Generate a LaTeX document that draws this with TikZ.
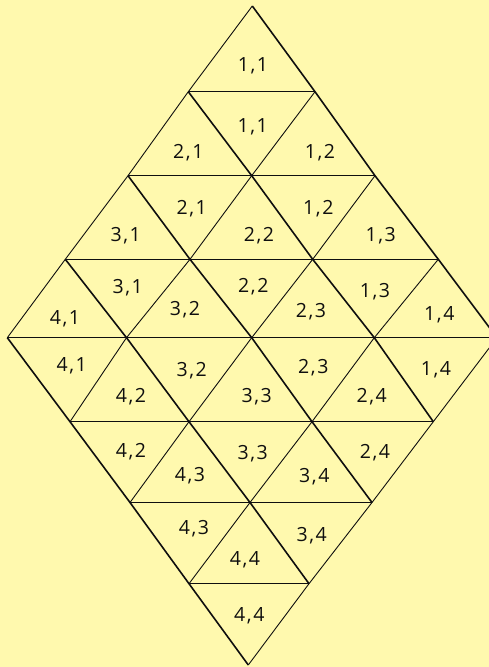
\documentclass[tikz,border=0pt]{standalone}
\usepackage{fontspec}
\setmainfont{Open Sans}
\definecolor{bgyellow}{RGB}{255,249,174}
\definecolor{ink}{RGB}{15,15,15}
\begin{document}
\begin{tikzpicture}[x=1pt,y=-1pt,
  hline/.style={draw=ink,line width=1.4pt},
  bline/.style={draw=ink,line width=1.6pt},
  sline/.style={draw=ink,line width=0.9pt},
  lab/.style={anchor=base,inner sep=0pt,text=ink,font=\fontsize{19.5}{23}\selectfont}]
\fill[bgyellow] (0,0) rectangle (489,667);
\useasboundingbox (0,0) rectangle (489,667);
% lattice points
\coordinate (p00) at (252.3,6);
\coordinate (p10) at (188.3,91.7); \coordinate (p11) at (315,91.7);
\coordinate (p20) at (128,175.7); \coordinate (p21) at (251.7,175.7); \coordinate (p22) at (375,175.7);
\coordinate (p30) at (65.3,259.3); \coordinate (p31) at (190,259.3); \coordinate (p32) at (312.7,259.3); \coordinate (p33) at (438.3,259.3);
\coordinate (p40) at (7.3,337.7); \coordinate (p41) at (126.5,337.7); \coordinate (p42) at (251.7,337.7); \coordinate (p43) at (374.3,337.7); \coordinate (p44) at (497,337.7);
\coordinate (q50) at (70,421.7); \coordinate (q51) at (189,421.7); \coordinate (q52) at (312,421.7); \coordinate (q53) at (433.3,421.7);
\coordinate (q60) at (130,502.5); \coordinate (q61) at (250,502.5); \coordinate (q62) at (372,502.5);
\coordinate (q70) at (189,583.7); \coordinate (q71) at (309,583.7);
\coordinate (q80) at (248.3,665);
% horizontals
\draw[hline] (p10) -- (p11);
\draw[hline] (p20) -- (p21) -- (p22);
\draw[hline] (p30) -- (p31) -- (p32) -- (p33);
\draw[hline] (p40) -- (p41) -- (p42) -- (p43) -- (p44);
\draw[hline] (q50) -- (q51) -- (q52) -- (q53);
\draw[hline] (q60) -- (q61) -- (q62);
\draw[hline] (q70) -- (q71);
% backslash lines (thick)
\draw[bline] (p00) -- (p11) -- (p22) -- (p33) -- (p44);
\draw[bline] (p10) -- (p21) -- (p32) -- (p43);
\draw[bline] (p20) -- (p31) -- (p42);
\draw[bline] (p30) -- (p41);
\draw[bline] (p40) -- (q50) -- (q60) -- (q70) -- (q80);
\draw[bline] (p41) -- (q51) -- (q61) -- (q71);
\draw[bline] (p42) -- (q52) -- (q62);
\draw[bline] (p43) -- (q53);
% slash lines (thin)
\draw[sline] (p00) -- (p10) -- (p20) -- (p30) -- (p40);
\draw[sline] (p11) -- (p21) -- (p31) -- (p41);
\draw[sline] (p22) -- (p32) -- (p42);
\draw[sline] (p33) -- (p43);
\draw[sline] (p44) -- (q53) -- (q62) -- (q71) -- (q80);
\draw[sline] (p43) -- (q52) -- (q61) -- (q70);
\draw[sline] (p42) -- (q51) -- (q60);
\draw[sline] (p41) -- (q50);
% labels
\foreach \lx/\ly/\la/\lb [count=\i] in {
  253/64/1/1,
  252.7/125/1/1, 188.3/151/2/1, 320/151/1/2,
  191.7/207.3/2/1, 318.3/207.3/1/2, 125.7/234/3/1, 259/234/2/2, 380.7/234/1/3,
  127.7/286.7/3/1, 253.3/285.7/2/2, 375/290/1/3,
  65/317.7/4/1, 185/308.3/3/2, 311/310/2/3, 439.3/313.3/1/4,
  71.7/364.3/4/1, 191.7/369/3/2, 313.3/366.7/2/3, 436/368.3/1/4,
  131/395.7/4/2, 256.7/395.7/3/3, 371.7/395.7/2/4,
  131/450/4/2, 252.7/452.3/3/3, 375/451.7/2/4,
  190/474/4/3, 314.3/475.7/3/4,
  194/527.7/4/3, 311.7/534.3/3/4, 245/558.3/4/4,
  249.3/614.3/4/4}
  \node[lab] (lab\i) at (\lx,\ly+7) {\la\kern1.6pt,\kern1.6pt\lb};
\end{tikzpicture}
\end{document}
